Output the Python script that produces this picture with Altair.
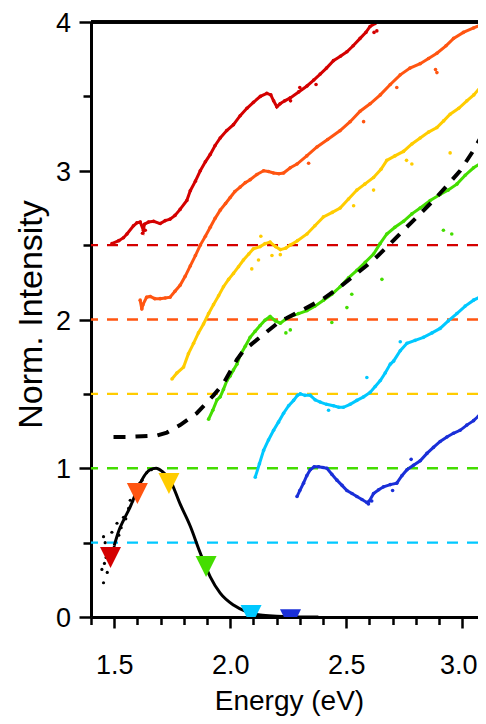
import altair as alt
import pandas as pd

FONT = "Liberation Sans"

# ---------------- data ----------------
red_e = [1.490, 1.520, 1.540, 1.555, 1.583, 1.598, 1.612, 1.626, 1.630, 1.648, 1.670, 1.698, 1.720, 1.741,
         1.762, 1.784, 1.813, 1.828, 1.850, 1.871, 1.893, 1.914, 1.935, 1.957, 1.985, 2.014, 2.043, 2.072,
         2.100, 2.130, 2.158, 2.175, 2.187, 2.201, 2.215, 2.235, 2.259, 2.295, 2.331, 2.360, 2.388, 2.415,
         2.445, 2.475, 2.503, 2.530, 2.560, 2.585, 2.603, 2.625]
red_v = [2.51, 2.53, 2.55, 2.575, 2.63, 2.65, 2.655, 2.60, 2.64, 2.655, 2.66, 2.645, 2.665, 2.675,
         2.70, 2.74, 2.80, 2.866, 2.93, 3.00, 3.06, 3.11, 3.17, 3.22, 3.27, 3.31, 3.37, 3.42,
         3.46, 3.50, 3.52, 3.51, 3.47, 3.43, 3.45, 3.47, 3.49, 3.53, 3.57, 3.61, 3.65, 3.69,
         3.74, 3.77, 3.80, 3.84, 3.89, 3.93, 3.97, 3.99]
red_out_e = [2.632, 2.620, 2.370, 2.260, 2.300, 1.622, 1.634]
red_out_v = [3.94, 3.93, 3.58, 3.47, 3.56, 2.58, 2.60]

orange_e = [1.612, 1.619, 1.624, 1.640, 1.655, 1.675, 1.698, 1.720, 1.741, 1.762, 1.784, 1.806, 1.828,
            1.850, 1.871, 1.893, 1.914, 1.935, 1.957, 1.980, 2.000, 2.020, 2.043, 2.065, 2.086, 2.115,
            2.144, 2.165, 2.187, 2.210, 2.230, 2.259, 2.288, 2.330, 2.374, 2.420, 2.474, 2.517, 2.560,
            2.603, 2.647, 2.690, 2.733, 2.775, 2.819, 2.855, 2.891, 2.930, 2.963, 3.005, 3.049, 3.080, 3.103]
orange_v = [2.13, 2.07, 2.10, 2.15, 2.155, 2.14, 2.14, 2.145, 2.15, 2.19, 2.23, 2.29, 2.36,
            2.43, 2.50, 2.56, 2.62, 2.68, 2.735, 2.78, 2.82, 2.86, 2.89, 2.92, 2.94, 2.975,
            3.00, 2.995, 2.985, 2.98, 2.985, 3.02, 3.045, 3.10, 3.16, 3.21, 3.27, 3.33, 3.40,
            3.45, 3.51, 3.58, 3.645, 3.69, 3.72, 3.755, 3.79, 3.84, 3.89, 3.93, 3.96, 3.98, 4.00]
orange_out_e = [2.891, 2.885, 2.718, 2.575, 2.338]
orange_out_v = [3.66, 3.68, 3.56, 3.33, 3.05]

yellow_e = [1.749, 1.770, 1.799, 1.820, 1.842, 1.863, 1.885, 1.907, 1.928, 1.950, 1.971, 1.993, 2.014,
            2.036, 2.057, 2.080, 2.100, 2.129, 2.150, 2.172, 2.195, 2.216, 2.240, 2.259, 2.290, 2.331,
            2.365, 2.402, 2.440, 2.474, 2.510, 2.546, 2.580, 2.618, 2.650, 2.675, 2.710, 2.747, 2.783,
            2.819, 2.855, 2.891, 2.920, 2.948, 2.985, 3.020, 3.050, 3.078, 3.103]
yellow_v = [1.60, 1.64, 1.68, 1.77, 1.84, 1.91, 1.97, 2.04, 2.10, 2.16, 2.22, 2.27, 2.31,
            2.355, 2.40, 2.44, 2.475, 2.49, 2.51, 2.52, 2.49, 2.47, 2.48, 2.50, 2.53, 2.575,
            2.63, 2.69, 2.72, 2.75, 2.81, 2.87, 2.91, 2.955, 3.01, 3.07, 3.10, 3.13, 3.18,
            3.22, 3.26, 3.29, 3.335, 3.38, 3.42, 3.47, 3.51, 3.56, 3.60]
yellow_out_e = [2.132, 2.093, 2.122, 2.180, 2.216, 2.618, 2.532, 2.783, 2.760, 2.948, 3.078]
yellow_out_v = [2.56, 2.34, 2.40, 2.43, 2.436, 2.87, 2.765, 3.045, 3.07, 3.12, 3.41]

green_e = [1.907, 1.925, 1.943, 1.957, 1.971, 1.986, 2.000, 2.014, 2.029, 2.043, 2.065, 2.086, 2.107,
           2.129, 2.150, 2.172, 2.195, 2.216, 2.237, 2.259, 2.295, 2.331, 2.365, 2.402, 2.438, 2.474,
           2.510, 2.546, 2.582, 2.618, 2.646, 2.675, 2.710, 2.747, 2.783, 2.819, 2.862, 2.905, 2.940,
           2.977, 3.013, 3.049, 3.080, 3.103]
green_v = [1.33, 1.39, 1.46, 1.48, 1.53, 1.59, 1.62, 1.66, 1.70, 1.76, 1.82, 1.88, 1.92,
           1.96, 1.995, 2.02, 1.99, 1.975, 2.00, 2.02, 2.04, 2.06, 2.09, 2.13, 2.17, 2.22,
           2.28, 2.33, 2.385, 2.44, 2.51, 2.575, 2.62, 2.66, 2.71, 2.75, 2.80, 2.84, 2.87,
           2.91, 2.97, 3.02, 3.05, 3.07]
green_out_e = [2.919, 2.955, 2.654, 2.503, 2.438, 2.259, 2.240, 2.524]
green_out_v = [2.60, 2.575, 2.27, 2.08, 1.98, 1.93, 1.91, 2.17]

cyan_e = [2.108, 2.126, 2.144, 2.165, 2.187, 2.208, 2.230, 2.252, 2.273, 2.290, 2.302, 2.322, 2.345,
          2.366, 2.388, 2.415, 2.445, 2.468, 2.488, 2.517, 2.546, 2.575, 2.603, 2.625, 2.647, 2.668,
          2.690, 2.704, 2.733, 2.762, 2.797, 2.833, 2.870, 2.905, 2.940, 2.977, 3.013, 3.049, 3.075, 3.103]
cyan_v = [0.94, 1.03, 1.12, 1.19, 1.255, 1.31, 1.37, 1.42, 1.456, 1.49, 1.50, 1.49, 1.49,
          1.46, 1.445, 1.43, 1.42, 1.41, 1.41, 1.43, 1.456, 1.48, 1.51, 1.55, 1.59, 1.64,
          1.70, 1.72, 1.79, 1.84, 1.86, 1.88, 1.91, 1.94, 1.99, 2.04, 2.09, 2.13, 2.15, 2.17]
cyan_out_e = [2.589, 2.424, 2.733]
cyan_out_v = [1.61, 1.39, 1.85]

blue_e = [2.288, 2.300, 2.316, 2.330, 2.345, 2.362, 2.381, 2.400, 2.417, 2.438, 2.460, 2.482, 2.503,
          2.525, 2.546, 2.568, 2.589, 2.600, 2.618, 2.640, 2.661, 2.690, 2.718, 2.740, 2.762, 2.790,
          2.819, 2.848, 2.876, 2.905, 2.934, 2.962, 2.991, 3.020, 3.049, 3.070, 3.092]
blue_v = [0.81, 0.85, 0.90, 0.95, 0.99, 1.01, 1.01, 1.005, 1.00, 0.96, 0.92, 0.885, 0.85,
          0.83, 0.81, 0.79, 0.77, 0.78, 0.83, 0.855, 0.875, 0.89, 0.90, 0.95, 0.99, 1.02,
          1.05, 1.10, 1.14, 1.18, 1.21, 1.235, 1.255, 1.29, 1.32, 1.35, 1.37]
blue_out_e = [2.596, 2.610, 2.700, 2.780]
blue_out_v = [0.76, 0.78, 0.85, 1.06]

pl_e = [1.500, 1.520, 1.540, 1.569, 1.598, 1.626, 1.655, 1.681, 1.706, 1.741, 1.784, 1.828, 1.871,
        1.914, 1.957, 2.014, 2.072, 2.130, 2.200, 2.300, 2.380]
pl_v = [0.48, 0.58, 0.65, 0.74, 0.85, 0.94, 0.99, 1.00, 0.98, 0.92, 0.76, 0.61, 0.43,
        0.27, 0.16, 0.08, 0.035, 0.013, 0.005, 0.0, 0.0]
pl_dots_e = [1.447, 1.454, 1.454, 1.461, 1.458, 1.465, 1.470, 1.475, 1.490, 1.500, 1.512, 1.520,
             1.530, 1.540, 1.550, 1.562, 1.569, 1.580, 1.590, 1.610, 1.620, 1.640, 1.660]
pl_dots_v = [0.32, 0.23, 0.54, 0.50, 0.36, 0.40, 0.30, 0.42, 0.57, 0.47, 0.63, 0.55,
             0.60, 0.67, 0.66, 0.73, 0.785, 0.78, 0.82, 0.90, 0.92, 0.97, 0.99]

fit_e = [1.497, 1.560, 1.620, 1.684, 1.727, 1.784, 1.856, 1.928, 1.971, 2.029, 2.057, 2.144, 2.216,
         2.244, 2.331, 2.402, 2.474, 2.546, 2.618, 2.690, 2.747, 2.812, 2.876, 2.935, 2.991, 3.050, 3.103]
fit_v = [1.21, 1.21, 1.215, 1.22, 1.24, 1.29, 1.37, 1.49, 1.57, 1.73, 1.79, 1.90, 1.99,
         2.01, 2.08, 2.14, 2.22, 2.31, 2.40, 2.51, 2.60, 2.70, 2.80, 2.90, 3.00, 3.14, 3.29]

marker_e = [1.484, 1.600, 1.736, 1.896, 2.090, 2.260]
marker_v = [0.40, 0.83, 0.897, 0.34, 0.01, -0.019]

offset_levels = [2.5, 2.0, 1.5, 1.0, 0.5]

series_names = ["red", "orange", "yellow", "green", "cyan", "blue"]
series_colors = ["#d40000", "#ff5511", "#ffcc00", "#44dd00", "#00c8ff", "#1a2fd8"]

x_major_ticks = [1.5, 2.0, 2.5, 3.0]
x_minor_ticks = [1.4, 1.6, 1.7, 1.8, 1.9, 2.1, 2.2, 2.3, 2.4, 2.6, 2.7, 2.8, 2.9]
y_major_ticks = [0, 1, 2, 3, 4]
y_minor_ticks = [0.5, 1.5, 2.5, 3.5]

# ---------------- tables ----------------
curves = [(red_e, red_v), (orange_e, orange_v), (yellow_e, yellow_v),
          (green_e, green_v), (cyan_e, cyan_v), (blue_e, blue_v)]
outs = [(red_out_e, red_out_v), (orange_out_e, orange_out_v), (yellow_out_e, yellow_out_v),
        (green_out_e, green_out_v), (cyan_out_e, cyan_out_v), (blue_out_e, blue_out_v)]


def long_table(groups):
    rows = []
    for name, col, (es, vs) in zip(series_names, series_colors, groups):
        for e, v in zip(es, vs):
            rows.append({"E": e, "I": v, "s": name, "c": col})
    return pd.DataFrame(rows)


spec_df = long_table(curves)
out_df = long_table(outs)
lvl_df = pd.DataFrame({"I": offset_levels, "c": series_colors[:5]})
pl_df = pd.DataFrame({"E": pl_e, "I": pl_v})
pld_df = pd.DataFrame({"E": pl_dots_e, "I": pl_dots_v})
fit_df = pd.DataFrame({"E": fit_e, "I": fit_v})
mk_df = pd.DataFrame({"E": marker_e, "I": marker_v, "c": series_colors})

# plot area: 232 px per eV, 148.75 px per unit of intensity
PLOT_W, PLOT_H = 387, 595
xs = alt.Scale(domain=[1.4, 1.4 + PLOT_W / 232.0], nice=False, zero=False)
ys = alt.Scale(domain=[0, 4], nice=False, zero=False)

x_major = alt.Axis(orient="bottom", values=x_major_ticks, format=".1f", grid=False,
                   tickSize=11, tickWidth=2.5, tickColor="black", domainWidth=3, domainColor="black",
                   labelFont=FONT, labelFontSize=27, labelColor="black", labelPadding=24,
                   labelFlush=False, labelOverlap=False,
                   labelOffset={"condition": {"test": "datum.value > 2.9", "value": -4}, "value": 0},
                   title="Energy (eV)", titleFont=FONT, titleFontSize=28, titleFontWeight="normal",
                   titleColor="black", titleX=198, titleY=92, titleAlign="center",
                   titleBaseline="alphabetic")
x_minor = alt.Axis(orient="bottom", values=x_minor_ticks, grid=False, labels=False, domain=False,
                   tickSize=7.5, tickWidth=2.5, tickColor="black", title=None)
y_major = alt.Axis(orient="left", values=y_major_ticks, format=".0f", grid=False,
                   tickSize=12, tickWidth=2.5, tickColor="black", domainWidth=3, domainColor="black",
                   labelFont=FONT, labelFontSize=27, labelColor="black", labelPadding=8.5, labelOffset=1.5,
                   labelFlush=False, labelOverlap=False,
                   title="Norm. Intensity", titleFont=FONT, titleFontSize=34, titleFontWeight="normal",
                   titleColor="black", titleAngle=270, titleX=-50, titleY=292, titleAlign="center",
                   titleBaseline="alphabetic")
y_minor = alt.Axis(orient="left", values=y_minor_ticks, grid=False, labels=False, domain=False,
                   tickSize=8, tickWidth=2.5, tickColor="black", title=None)

levels = alt.Chart(lvl_df).mark_rule(strokeDash=[11, 9], strokeWidth=2.3).encode(
    y=alt.Y("I:Q", scale=ys, axis=None),
    color=alt.Color("c:N", scale=None),
)

lines = alt.Chart(spec_df).mark_line(strokeWidth=3, clip=True).encode(
    x=alt.X("E:Q", scale=xs, axis=x_major),
    y=alt.Y("I:Q", scale=ys, axis=y_major),
    color=alt.Color("c:N", scale=None),
    detail="s:N",
)

dots = alt.Chart(spec_df).mark_circle(size=13, opacity=1, clip=True).encode(
    x=alt.X("E:Q", scale=xs, axis=x_minor),
    y=alt.Y("I:Q", scale=ys, axis=y_minor),
    color=alt.Color("c:N", scale=None),
)

outliers = alt.Chart(out_df).mark_circle(size=13, opacity=1, clip=True).encode(
    x=alt.X("E:Q", scale=xs, axis=None),
    y=alt.Y("I:Q", scale=ys, axis=None),
    color=alt.Color("c:N", scale=None),
)

fit = alt.Chart(fit_df).mark_line(color="black", strokeWidth=4, strokeDash=[12, 10], clip=True).encode(
    x=alt.X("E:Q", scale=xs, axis=None),
    y=alt.Y("I:Q", scale=ys, axis=None),
)

pl_line = alt.Chart(pl_df).mark_line(color="black", strokeWidth=3, interpolate="monotone", clip=True).encode(
    x=alt.X("E:Q", scale=xs, axis=None),
    y=alt.Y("I:Q", scale=ys, axis=None),
)

pl_dots = alt.Chart(pld_df).mark_circle(color="black", size=10, opacity=1, clip=True).encode(
    x=alt.X("E:Q", scale=xs, axis=None),
    y=alt.Y("I:Q", scale=ys, axis=None),
)

markers = alt.Chart(mk_df).mark_point(shape="M-1,-1L1,-1L0,1Z", filled=True, size=441, opacity=1,
                                      strokeWidth=0, clip=True).encode(
    x=alt.X("E:Q", scale=xs, axis=None),
    y=alt.Y("I:Q", scale=ys, axis=None),
    color=alt.Color("c:N", scale=None),
)

top = alt.Chart(lvl_df).mark_rule(color="black", strokeWidth=3).encode(y=alt.datum(4))

chart = alt.layer(levels, lines, dots, outliers, fit, pl_line, pl_dots, markers, top).resolve_axis(
    x="independent", y="independent"
).properties(
    width=PLOT_W, height=PLOT_H,
    autosize=alt.AutoSizeParams(type="none"),
    padding={"left": 83, "top": 14, "right": 0, "bottom": 99},
    background="white",
).configure_view(stroke=None)

chart.save("out.html", embed_options={"renderer": "svg", "actions": False})
